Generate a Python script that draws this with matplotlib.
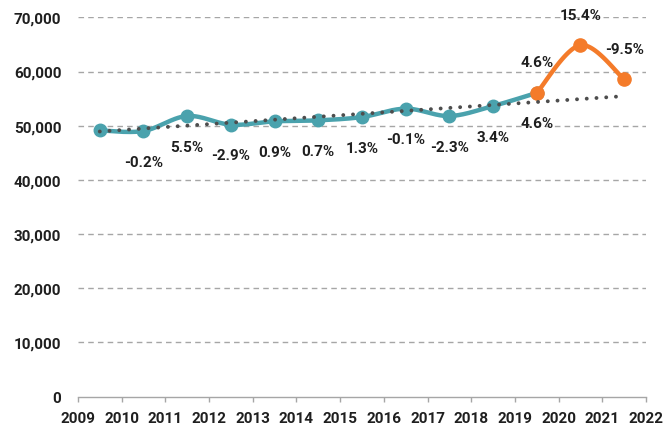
import numpy as np
import matplotlib
matplotlib.use("Agg")
import matplotlib.pyplot as plt
from matplotlib.ticker import FuncFormatter, MultipleLocator

plt.rcParams['font.family'] = ['Roboto', 'DejaVu Sans']

# yearly values, plotted at mid-year
years_hist = [2009.5, 2010.5, 2011.5, 2012.5, 2013.5, 2014.5,
              2015.5, 2016.5, 2017.5, 2018.5, 2019.5]
vals_hist = [49130, 49020, 51790, 50185, 50800, 50990,
             51600, 53150, 51790, 53640, 56060]
years_fc = [2019.5, 2020.5, 2021.5]
vals_fc = [56060, 64870, 58570]

# growth labels: below the teal points, above the orange ones
lbl_hist = ['-0.2%', '5.5%', '-2.9%', '0.9%', '0.7%', '1.3%',
            '-0.1%', '-2.3%', '3.4%', '4.6%']
lbl_fc = ['4.6%', '15.4%', '-9.5%']

TEAL = '#4AA2AD'
ORANGE = '#F47B2A'
GRID = '#A6A6A6'
TXT = '#1F1F1F'
WEIGHT = 'bold'


def smooth(x, y, n=30):
    # catmull-rom through the points, like a spreadsheet "smoothed line"
    x = np.asarray(x, float)
    y = np.asarray(y, float)
    px = np.concatenate([[x[0]], x, [x[-1]]])
    py = np.concatenate([[y[0]], y, [y[-1]]])
    xs, ys = [], []
    t = np.linspace(0, 1, n)
    for i in range(1, len(px) - 2):
        p0, p1, p2, p3 = (np.array([px[j], py[j]]) for j in range(i - 1, i + 3))
        c1 = p1 + (p2 - p0) / 6
        c2 = p2 - (p3 - p1) / 6
        b = ((1 - t) ** 3)[:, None] * p1 + (3 * (1 - t) ** 2 * t)[:, None] * c1 \
            + (3 * (1 - t) * t ** 2)[:, None] * c2 + (t ** 3)[:, None] * p2
        xs.append(b[:, 0])
        ys.append(b[:, 1])
    return np.concatenate(xs), np.concatenate(ys)


fig = plt.figure(figsize=(6.66, 4.27), dpi=100)
ax = fig.add_axes([0.117, 0.069, 0.853, 0.888])

sx, sy = smooth(years_hist, vals_hist)
ax.plot(sx, sy, color=TEAL, lw=3.2, solid_capstyle='round', zorder=3)
ax.plot(years_hist, vals_hist, 'o', color=TEAL, ms=9, zorder=3)

fx, fy = smooth(years_fc, vals_fc)
ax.plot(fx, fy, color=ORANGE, lw=3.2, solid_capstyle='round', zorder=4)
ax.plot(years_fc, vals_fc, 'o', color=ORANGE, ms=9.5, zorder=4)

# linear trend of the historic series, extended over the forecast
k, b0 = np.polyfit(years_hist, vals_hist, 1)
tx = np.array([years_hist[0], years_fc[-1]])
ax.plot(tx, k * tx + b0, color='#4D4D4D', lw=2.8, ls=(0, (0.01, 2.5)),
        dash_capstyle='round', zorder=5)

for x, y, s in zip(years_hist[1:], vals_hist[1:], lbl_hist):
    ax.annotate(s, (x, y), xytext=(0, -22), textcoords='offset points',
                ha='center', va='center', fontsize=11, color=TXT, fontweight=WEIGHT)
for x, y, s in zip(years_fc, vals_fc, lbl_fc):
    ax.annotate(s, (x, y), xytext=(0, 22), textcoords='offset points',
                ha='center', va='center', fontsize=11, color=TXT, fontweight=WEIGHT)

ax.set_xlim(2009, 2022)
ax.set_ylim(0, 70000)
ax.xaxis.set_major_locator(MultipleLocator(1))
ax.yaxis.set_major_locator(MultipleLocator(10000))
ax.yaxis.set_major_formatter(FuncFormatter(lambda v, p: f'{v:,.0f}'))

for yv in range(10000, 70001, 10000):
    ax.axhline(yv, color=GRID, lw=1, ls=(0, (4, 3)), zorder=1)

for sp in ['top', 'right', 'left']:
    ax.spines[sp].set_visible(False)
ax.spines['bottom'].set_color(GRID)
ax.spines['bottom'].set_linewidth(1)

ax.tick_params(axis='x', length=3.5, width=1, color=GRID, pad=7,
               labelsize=11, labelcolor=TXT)
ax.tick_params(axis='y', length=0, pad=12, labelsize=11, labelcolor=TXT)
for lab in ax.get_xticklabels() + ax.get_yticklabels():
    lab.set_fontweight(WEIGHT)

fig.savefig('out.png', dpi=100)
